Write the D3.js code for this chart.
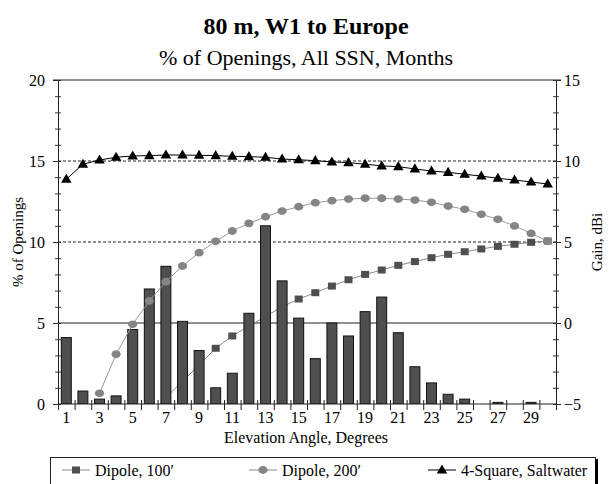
<!DOCTYPE html>
<html><head><meta charset="utf-8">
<script src="https://cdn.jsdelivr.net/npm/d3@7"></script>
<style>
html,body{margin:0;padding:0;background:#fff;}
svg{display:block;font-family:"Liberation Serif","Times New Roman",serif;}
</style></head>
<body><svg id="c" width="610" height="484"></svg>
<script>
const categories = d3.range(1, 31);
const xTickLabels = [1,3,5,7,9,11,13,15,17,19,21,23,25,27,29];
const leftTicks = [0,5,10,15,20];
const rightTicks = [-5,0,5,10,15];
// % of openings (bars, left axis)
const openings = [4.1,0.8,0.3,0.5,4.6,7.1,8.5,5.1,3.3,1.0,1.9,5.6,11.0,7.6,5.3,2.8,5.0,4.2,5.7,6.6,4.4,2.3,1.3,0.6,0.3,0,0.1,0,0.1,0];
// gain dBi (right axis)
const dipole100 = [null,null,null,null,null,-5.7,-4.6,-3.6,-2.6,-1.56,-0.8,-0.2,0.4,1.0,1.48,1.87,2.28,2.67,3.0,3.27,3.56,3.79,4.03,4.24,4.40,4.57,4.73,4.86,4.98,5.06];
const dipole200 = [null,null,-4.34,-1.93,-0.08,1.36,2.55,3.52,4.34,5.04,5.68,6.15,6.56,6.91,7.18,7.43,7.55,7.65,7.7,7.7,7.65,7.59,7.45,7.22,7.02,6.71,6.40,5.99,5.53,5.06];
const square4 = [8.87,9.80,10.06,10.23,10.31,10.33,10.37,10.37,10.35,10.33,10.29,10.27,10.23,10.12,10.08,10.02,9.94,9.90,9.80,9.70,9.65,9.51,9.38,9.30,9.18,9.07,8.93,8.83,8.70,8.58];
const seriesNames = ["Dipole, 100\u2032","Dipole, 200\u2032","4-Square, Saltwater"];

const svg = d3.select("#c");
const L = 58, R = 556, T = 80, B = 404;
const x = d3.scaleBand().domain(categories).range([L, R]).padding(0);
const xLin = d3.scaleLinear().domain([0, 30]).range([L, R]);
const yL = d3.scaleLinear().domain([0, 20]).range([B, T]);
const yR = d3.scaleLinear().domain([-5, 15]).range([B, T]);
const cx = c => x(c) + x.bandwidth() / 2;

// titles
svg.append("text").attr("x", 306).attr("y", 34).attr("text-anchor","middle")
  .attr("font-size", 24).attr("font-weight","bold").text("80 m, W1 to Europe");
svg.append("text").attr("x", 306).attr("y", 65).attr("text-anchor","middle")
  .attr("font-size", 22).text("% of Openings, All SSN, Months");

svg.append("defs").append("clipPath").attr("id","clip")
  .append("rect").attr("x", L).attr("y", T).attr("width", R - L).attr("height", B - T);

// gridlines
svg.append("g").selectAll("line").data([10, 15]).join("line")
  .attr("x1", L).attr("x2", R).attr("y1", d => yL(d)).attr("y2", d => yL(d))
  .attr("stroke", "#222").attr("stroke-dasharray", "3,2").attr("stroke-width", 1);
svg.append("line").attr("x1", L).attr("x2", R).attr("y1", yL(5)).attr("y2", yL(5))
  .attr("stroke", "#222").attr("stroke-width", 1);
svg.append("line").attr("x1", 53).attr("x2", 561).attr("y1", yL(20)).attr("y2", yL(20))
  .attr("stroke", "#222").attr("stroke-width", 1);

const plot = svg.append("g").attr("clip-path", "url(#clip)");

// Dipole 100 line (beneath bars)
const line100 = d3.line().defined(d => d.v !== null).x(d => cx(d.c)).y(d => yR(d.v));
const d100 = categories.map((c, i) => ({c, v: dipole100[i]}));
plot.append("path").attr("d", line100(d100)).attr("fill","none").attr("stroke","#8a8a8a").attr("stroke-width",1);
plot.append("g").selectAll("rect").data(d100.filter(d => d.v !== null)).join("rect")
  .attr("x", d => cx(d.c) - 4).attr("y", d => yR(d.v) - 3.5).attr("width", 8).attr("height", 7)
  .attr("fill", "#4f4f4f");

// bars
const bw = x.bandwidth() * 0.6;
plot.append("g").selectAll("rect").data(categories.map((c, i) => ({c, v: openings[i]})).filter(d => d.v > 0)).join("rect")
  .attr("x", d => cx(d.c) - bw / 2).attr("y", d => yL(d.v)).attr("width", bw).attr("height", d => yL(0) - yL(d.v))
  .attr("fill", "#4f4f4f").attr("stroke", "#111").attr("stroke-width", 1);

// Dipole 200
const d200 = categories.map((c, i) => ({c, v: dipole200[i]}));
plot.append("path").attr("d", line100(d200)).attr("fill","none").attr("stroke","#9a9a9a").attr("stroke-width",1);
plot.append("g").selectAll("ellipse").data(d200.filter(d => d.v !== null)).join("ellipse")
  .attr("cx", d => cx(d.c)).attr("cy", d => yR(d.v)).attr("rx", 4.6).attr("ry", 3.9)
  .attr("fill", "#858585");

// 4-square
const dsq = categories.map((c, i) => ({c, v: square4[i]}));
svg.append("path").attr("d", line100(dsq)).attr("fill","none").attr("stroke","#000").attr("stroke-width",1);
const tri = d3.symbol().type(d3.symbolTriangle).size(48);
svg.append("g").selectAll("path").data(dsq).join("path")
  .attr("transform", d => `translate(${cx(d.c)},${yR(d.v) + 0.5})`).attr("d", tri).attr("fill", "#000");

// left axis
const gl = svg.append("g").attr("transform", `translate(${L},0)`)
  .call(d3.axisLeft(yL).tickValues(leftTicks).tickSize(5).tickPadding(8).tickFormat(d3.format("d")));
gl.selectAll("text").attr("font-size", 16).attr("font-family", "Liberation Serif").attr("fill","#000");
gl.select(".domain").attr("stroke","#222");
gl.selectAll(".tick line").attr("stroke","#222");
const glm = svg.append("g").attr("transform", `translate(${L + 3},0)`)
  .call(d3.axisLeft(yL).tickValues(d3.range(0, 21)).tickSize(6).tickFormat(""));
glm.select(".domain").remove();
glm.selectAll(".tick line").attr("stroke","#333");

// right axis
const gr = svg.append("g").attr("transform", `translate(${R},0)`)
  .call(d3.axisRight(yR).tickValues(rightTicks).tickSize(5).tickPadding(3).tickFormat(d3.format("d")));
gr.selectAll("text").attr("font-size", 16).attr("font-family", "Liberation Serif").attr("fill","#000");
gr.select(".domain").attr("stroke","#222");
gr.selectAll(".tick line").attr("stroke","#222");
const grm = svg.append("g").attr("transform", `translate(${R - 3},0)`)
  .call(d3.axisRight(yR).tickValues(d3.range(-5, 16)).tickSize(6).tickFormat(""));
grm.select(".domain").remove();
grm.selectAll(".tick line").attr("stroke","#333");

// bottom axis
const gbm = svg.append("g").attr("transform", `translate(0,${B - 4})`)
  .call(d3.axisBottom(xLin).tickValues(d3.range(0, 31)).tickSize(10).tickFormat(""));
gbm.select(".domain").remove();
gbm.selectAll(".tick line").attr("stroke","#222");
svg.append("line").attr("x1", L).attr("x2", R).attr("y1", B).attr("y2", B).attr("stroke","#222");
const gb = svg.append("g").attr("transform", `translate(0,${B})`)
  .call(d3.axisBottom(x).tickValues(xTickLabels).tickSize(0).tickPadding(8));
gb.select(".domain").remove();
gb.selectAll("text").attr("font-size", 16).attr("font-family", "Liberation Serif").attr("fill","#000");

// axis titles
svg.append("text").attr("x", 306).attr("y", 443).attr("text-anchor","middle").attr("font-size", 16).text("Elevation Angle, Degrees");
svg.append("text").attr("transform", `translate(23,${(T + B) / 2}) rotate(-90)`).attr("text-anchor","middle").attr("font-size", 15).text("% of Openings");
svg.append("text").attr("transform", `translate(602,${(T + B) / 2}) rotate(-90)`).attr("text-anchor","middle").attr("font-size", 15).text("Gain, dBi");

// legend
const lg = svg.append("g");
lg.append("rect").attr("x", 50.5).attr("y", 457.5).attr("width", 545).attr("height", 40).attr("fill","#fff").attr("stroke","#222");
lg.append("line").attr("x1", 596.5).attr("x2", 596.5).attr("y1", 459).attr("y2", 484).attr("stroke","#000").attr("stroke-width",3);
const legX = [62, 249, 428];
const ly = 470;
seriesNames.forEach((n, i) => {
  const gx = legX[i];
  lg.append("line").attr("x1", gx).attr("x2", gx + 28).attr("y1", ly).attr("y2", ly)
    .attr("stroke", i === 2 ? "#000" : "#8a8a8a");
  if (i === 0) lg.append("rect").attr("x", gx + 10).attr("y", ly - 3.5).attr("width", 8).attr("height", 7).attr("fill","#4f4f4f");
  if (i === 1) lg.append("ellipse").attr("cx", gx + 14).attr("cy", ly).attr("rx", 4.6).attr("ry", 3.9).attr("fill","#858585");
  if (i === 2) lg.append("path").attr("transform", `translate(${gx + 14},${ly + 0.5})`).attr("d", tri).attr("fill","#000");
  lg.append("text").attr("x", gx + 33).attr("y", ly + 5.5).attr("font-size", 16).text(n);
});
</script></body></html>
